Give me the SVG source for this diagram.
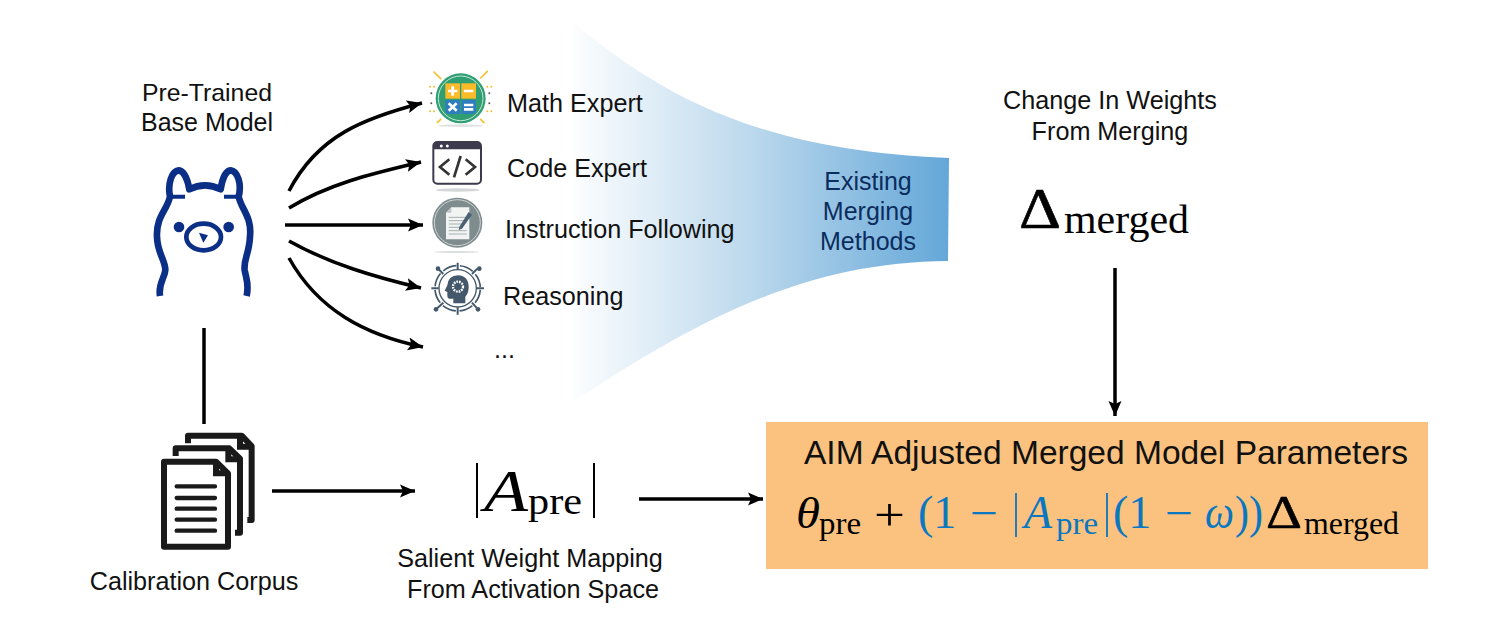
<svg xmlns="http://www.w3.org/2000/svg" width="1495" height="627" viewBox="0 0 1495 627">
<style>
text{font-family:"Liberation Sans",Arial,sans-serif;fill:#111}
.l{font-size:25.2px}
.c{text-anchor:middle}
.m{font-family:"Liberation Serif","Times New Roman",serif}
.i{font-style:italic}
.b{fill:#0b77c0}
.k{fill:#000}
.e{fill:#0b2d5e;font-size:25px;text-anchor:middle}
.cn{fill:none;stroke:#000;stroke-width:3.5}
.ar{marker-end:url(#ah)}
</style>
<defs>
<linearGradient id="fg" gradientUnits="userSpaceOnUse" x1="566" y1="0" x2="949" y2="0">
<stop offset="0" stop-color="#fff"/><stop offset="0.5" stop-color="#b9d7ec"/><stop offset="1" stop-color="#64a7d8"/>
</linearGradient>
<marker id="ah" markerUnits="userSpaceOnUse" markerWidth="17" markerHeight="16" refX="15" refY="8" orient="auto">
<path d="M0,1.5 L15,8 L0,14.5 L3,8 Z" fill="#000"/>
</marker>
</defs>
<rect width="1495" height="627" fill="#fff"/>

<g id="funnel">
<path d="M573,23 C640,75 730,150 949,158 L948,261 C800,262 690,325 573,402 Z" fill="url(#fg)"/>
<text class="e" x="868" y="190">Existing</text>
<text class="e" x="868" y="220">Merging</text>
<text class="e" x="868" y="250">Methods</text>
</g>

<g id="connectors">
<path class="cn ar" d="M289,191 C318,135 365,118 422,103"/>
<path class="cn ar" d="M289,208 C330,183 375,173 421,162"/>
<path class="cn ar" d="M285,225 L423,225"/>
<path class="cn ar" d="M289,241 C330,264 375,277 421,288"/>
<path class="cn ar" d="M289,258 C318,310 365,335 423,347"/>
<path class="cn" d="M204,328 L204,424"/>
<path class="cn ar" d="M272,491 L415,491"/>
<path class="cn ar" d="M639,499 L763,499"/>
<path class="cn ar" d="M1115,268 L1115,416"/>
</g>

<g id="base-model">
<text x="207" y="101" class="c" font-size="24.8">Pre-Trained</text>
<text x="207" y="131" class="c" font-size="25">Base Model</text>
<g transform="translate(130,60) scale(.3333)" fill="none" stroke="#0b2f86" stroke-width="20" stroke-linejoin="round">
<path d="M90,708 C84,670 104,655 106,630 C106,600 82,580 81,530 C78,470 112,450 120,410 C112,370 126,333 146,331 C164,333 174,365 178,388 C210,372 240,372 272,388 C276,360 286,333 302,331 C322,333 336,370 326,410 C335,450 366,470 360,530 C358,580 340,600 344,630 C348,655 358,670 350,708"/>
<path d="M122,410 L165,410 M282,410 L326,410" stroke-width="12"/>
<ellipse cx="221" cy="531" rx="52" ry="40" stroke-width="14"/>
<circle cx="147" cy="501" r="16" fill="#0b2f86" stroke="none"/>
<circle cx="296" cy="501" r="16" fill="#0b2f86" stroke="none"/>
<path d="M207,518 L234,526 L220,548 Z" fill="#0b2f86" stroke="none"/>
</g>
</g>

<g id="math-expert">
<g transform="translate(420,60) scale(.3333)">
<ellipse cx="122" cy="197" rx="68" ry="4" fill="#dfe2e2"/>
<g stroke="#f7bf2e" stroke-width="5" stroke-linecap="round"><path d="M42,36 L62,56 M202,34 L182,54 M62,178 L52,188 M182,178 L192,188"/></g>
<g fill="#f7bf2e"><circle cx="30" cy="80" r="3"/><circle cx="42" cy="80" r="3"/><circle cx="30" cy="154" r="3"/><circle cx="42" cy="154" r="3"/><circle cx="202" cy="80" r="3"/><circle cx="214" cy="80" r="3"/><circle cx="202" cy="154" r="3"/><circle cx="214" cy="154" r="3"/></g>
<g fill="#555"><circle cx="34" cy="100" r="3"/><circle cx="34" cy="130" r="3"/><circle cx="208" cy="100" r="3"/><circle cx="208" cy="130" r="3"/></g>
<circle cx="122" cy="115" r="75" fill="#2f9e72"/>
<circle cx="122" cy="115" r="67" fill="none" stroke="#c6e6d8" stroke-width="3"/>
<path d="M76,70 H120 V116 H76 Z" fill="#f9bb2a"/><path d="M124,70 H168 V116 H124 Z" fill="#f9bb2a"/>
<path d="M76,120 H120 V162 H88 Q76,162 76,150 Z" fill="#2f7dbf"/><path d="M124,120 H168 V150 Q168,162 156,162 H124 Z" fill="#2f7dbf"/>
<g stroke="#fff" stroke-width="8" fill="none"><path d="M84,93 H112 M98,79 V107 M132,93 H160 M86,130 L110,152 M110,130 L86,152 M132,135 H160 M132,148 H160"/></g>
</g>
<text class="l" x="507" y="112">Math Expert</text>
</g>

<g id="code-expert">
<g transform="translate(420,60) scale(.3333)">
<ellipse cx="113" cy="390" rx="65" ry="5" fill="#d5d6d8"/>
<rect x="40" y="246" width="143" height="125" rx="12" fill="#fff" stroke="#3d3a4e" stroke-width="6"/>
<path d="M40,268 V258 Q40,246 52,246 H171 Q183,246 183,258 V268 Z" fill="#3d3a4e"/>
<circle cx="64" cy="258" r="4.5" fill="#fff"/><circle cx="82" cy="258" r="4.5" fill="#fff"/>
<g fill="none" stroke="#333" stroke-width="8"><path d="M88,298 L60,321 L88,344 M137,298 L165,321 L137,344 M122,288 L102,352"/></g>
</g>
<text class="l" x="507" y="177">Code Expert</text>
</g>

<g id="instruction-following">
<g transform="translate(420,190) scale(.3333)">
<ellipse cx="110" cy="186" rx="68" ry="3" fill="#dcdfe0"/>
<circle cx="112" cy="98" r="75" fill="#7f8c8d"/>
<circle cx="112" cy="98" r="69" fill="none" stroke="#cfd4d4" stroke-width="3"/>
<path d="M94,52 H148 V148 H78 V68 Z" fill="#f2f4f4"/>
<path d="M94,52 V68 H78 Z" fill="#bfc5c6"/>
<g stroke="#a6aeaf" stroke-width="3"><path d="M86,82 H140 M86,92 H140 M86,102 H128 M86,112 H124 M86,122 H140 M86,132 H140"/></g>
<path d="M118,110 L146,66 L156,74 L126,116 L116,120 Z" fill="#4c6274"/>
</g>
<text class="l" x="505" y="238">Instruction Following</text>
</g>

<g id="reasoning">
<g transform="translate(420,190) scale(.3333)">
<g fill="none" stroke="#44586b">
<circle cx="113" cy="295" r="56" stroke-width="4"/>
<circle cx="113" cy="295" r="68" stroke-width="5" stroke-dasharray="42 11.4" stroke-dashoffset="-5"/>
<path d="M113,218 V240 M113,352 V374 M34,295 H56 M170,295 H192 M54,236 L70,252 M172,236 L156,252 M48,358 L70,338 M174,358 L156,338" stroke-width="6"/>
</g>
<g fill="#44586b"><circle cx="54" cy="236" r="7"/><circle cx="178" cy="236" r="7"/><circle cx="48" cy="358" r="7"/><circle cx="174" cy="358" r="7"/></g>
<path d="M100,340 V326 H88 Q82,326 82,316 V306 L74,302 L82,286 Q84,258 114,256 Q146,258 146,292 Q146,310 136,320 V340 Z" fill="#44586b"/>
<circle cx="114" cy="290" r="15" fill="none" stroke="#fff" stroke-width="7" stroke-dasharray="5 3"/>
</g>
<text class="l" x="503" y="305">Reasoning</text>
</g>

<g id="ellipsis"><text class="l" x="494" y="358">...</text></g>

<g id="change-in-weights">
<text class="l c" x="1110" y="109">Change In Weights</text>
<text class="l c" x="1110" y="140">From Merging</text>
<text class="m k" x="1019" y="228" font-size="58" stroke="#000" stroke-width=".6" textLength="42" lengthAdjust="spacingAndGlyphs">Δ</text>
<text class="m k" x="1064" y="233" font-size="40" textLength="125" lengthAdjust="spacingAndGlyphs">merged</text>
</g>

<g id="calibration-corpus">
<g transform="translate(140,420) scale(.3333)" fill="none" stroke="#1a1a1a" stroke-width="18">
<path d="M144,70 V47 H305 L335,78 V300 H322" stroke-linejoin="round"/>
<path d="M300,47 V80 H335"/>
<path d="M107,108 V85 H268 L300,116 V338 H285" stroke-linejoin="round"/>
<path d="M265,85 V118 H300"/>
<path d="M72,125 H228 L264,160 V380 H72 Z" fill="#fff" stroke-linejoin="round"/>
<path d="M228,125 V160 H264"/>
<path d="M110,199 H225 M110,234 H225 M110,266 H225 M110,299 H225 M110,332 H225" stroke-width="13" stroke-linecap="round"/>
</g>
<text class="l c" x="194" y="590">Calibration Corpus</text>
</g>

<g id="salient-mapping">
<path d="M477,463 V518 M594,463 V518" stroke="#000" stroke-width="2" fill="none"/>
<text class="m i k" x="484" y="511" font-size="60" textLength="44" lengthAdjust="spacingAndGlyphs">A</text>
<text class="m k" x="528" y="514" font-size="38" textLength="54" lengthAdjust="spacingAndGlyphs">pre</text>
<text class="l c" x="530" y="567">Salient Weight Mapping</text>
<text class="l c" x="533" y="598">From Activation Space</text>
</g>

<g id="aim-box">
<rect x="766" y="422" width="662" height="147" fill="#fac27e"/>
<text x="804" y="464" font-size="33" fill="#000" textLength="604" lengthAdjust="spacingAndGlyphs">AIM Adjusted Merged Model Parameters</text>
<text class="m i k" x="796" y="528" font-size="44" textLength="24" lengthAdjust="spacingAndGlyphs">θ</text>
<text class="m k" x="819" y="534" font-size="32" textLength="42" lengthAdjust="spacingAndGlyphs">pre</text>
<text class="m k" x="874" y="530" font-size="46" textLength="31" lengthAdjust="spacingAndGlyphs">+</text>
<text class="m b" x="918" y="528" font-size="46">(1</text>
<text class="m b" x="970" y="528" font-size="44" textLength="28" lengthAdjust="spacingAndGlyphs">−</text>
<path d="M1016,493 V537 M1107,493 V537" stroke="#0b77c0" stroke-width="1.8" fill="none"/>
<text class="m i b" x="1024" y="528" font-size="46">A</text>
<text class="m b" x="1056" y="534" font-size="32" textLength="42" lengthAdjust="spacingAndGlyphs">pre</text>
<text class="m b" x="1113" y="528" font-size="46">(1</text>
<text class="m b" x="1165" y="528" font-size="44" textLength="28" lengthAdjust="spacingAndGlyphs">−</text>
<text class="m i b" x="1205" y="528" font-size="46" textLength="29" lengthAdjust="spacingAndGlyphs">ω</text>
<text class="m b" x="1235" y="528" font-size="46" textLength="28" lengthAdjust="spacingAndGlyphs">))</text>
<text class="m k" x="1266" y="528" font-size="46" stroke="#000" stroke-width=".5" textLength="36" lengthAdjust="spacingAndGlyphs">Δ</text>
<text class="m k" x="1304" y="534" font-size="32" textLength="95" lengthAdjust="spacingAndGlyphs">merged</text>
</g>
</svg>
